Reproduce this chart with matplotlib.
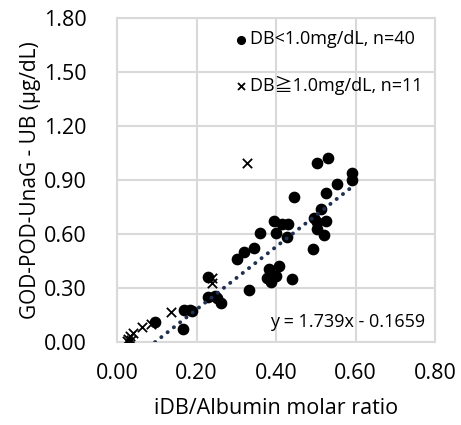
import numpy as np
import matplotlib.pyplot as plt

# DB < 1.0 mg/dL (circles)
low_x = [0.502, 0.530, 0.590, 0.590, 0.553, 0.525, 0.445, 0.513, 0.494, 0.525,
         0.502, 0.521, 0.492, 0.395, 0.414, 0.429, 0.400, 0.427, 0.360, 0.345,
         0.318, 0.301, 0.406, 0.382, 0.377, 0.387, 0.400, 0.441, 0.331, 0.228,
         0.228, 0.247, 0.252, 0.262, 0.169, 0.184, 0.165, 0.096, 0.503, 0.188]
low_y = [0.993, 1.020, 0.940, 0.900, 0.878, 0.829, 0.807, 0.737, 0.687, 0.674,
         0.626, 0.594, 0.515, 0.674, 0.656, 0.656, 0.604, 0.582, 0.604, 0.524,
         0.502, 0.463, 0.422, 0.404, 0.354, 0.335, 0.367, 0.352, 0.289, 0.363,
         0.252, 0.256, 0.246, 0.219, 0.178, 0.178, 0.072, 0.113, 0.665, 0.170]

# DB >= 1.0 mg/dL (crosses)
high_x = [0.326, 0.238, 0.238, 0.136, 0.085, 0.063, 0.040, 0.033, 0.028, 0.036, 0.024]
high_y = [0.993, 0.354, 0.326, 0.165, 0.100, 0.085, 0.048, 0.035, 0.020, 0.012, 0.008]

slope = 1.739
intercept = -0.1659

FONT = ['Open Sans', 'Noto Sans CJK JP', 'DejaVu Sans']
plt.rcParams['font.family'] = FONT

fig = plt.figure(figsize=(4.61, 4.25), dpi=100)
ax = fig.add_axes([0.254, 0.195, 0.690, 0.763])

ax.scatter(low_x, low_y, s=55, marker='o', color='black', zorder=3,
           label='DB<1.0mg/dL, n=40')
ax.scatter(high_x, high_y, s=45, marker='x', color='black', linewidths=1.3,
           zorder=3, label='DB\u22671.0mg/dL, n=11')

# linear trendline (Excel style, clipped at y = 0)
xs = np.linspace(-intercept / slope, max(low_x), 50)
ax.plot(xs, slope * xs + intercept, color='#1f3050', lw=2.8,
        linestyle=(0, (0.05, 2.0)), dash_capstyle='round', zorder=4)

ax.text(0.775, 0.11, 'y = 1.739x - 0.1659', fontsize=13, ha='right', va='center')

ax.set_xlim(0, 0.8)
ax.set_ylim(0, 1.8)
ax.set_xticks(np.arange(0, 0.81, 0.2))
ax.set_yticks(np.arange(0, 1.81, 0.3))
ax.xaxis.set_major_formatter(plt.FormatStrFormatter('%.2f'))
ax.yaxis.set_major_formatter(plt.FormatStrFormatter('%.2f'))
ax.tick_params(axis='y', length=0, labelsize=15.5, pad=22)
ax.tick_params(axis='x', length=0, labelsize=15.5, pad=15)
ax.grid(True, color='#d9d9d9', lw=1.5)
ax.set_axisbelow(True)
for s in ax.spines.values():
    s.set_color('#d9d9d9')
    s.set_linewidth(1.5)

ax.set_xlabel('iDB/Albumin molar ratio', fontsize=15.5, labelpad=10)
ax.set_ylabel('GOD-POD-UnaG - UB (\u03bcg/dL)', fontsize=15, labelpad=2)

ax.legend(loc='upper right', frameon=False, fontsize=13, handlelength=0.5,
          handletextpad=0.25, labelspacing=1.5, borderaxespad=0.3,
          markerscale=0.75, bbox_to_anchor=(1.0, 1.0))

plt.savefig('out.png', dpi=100)
